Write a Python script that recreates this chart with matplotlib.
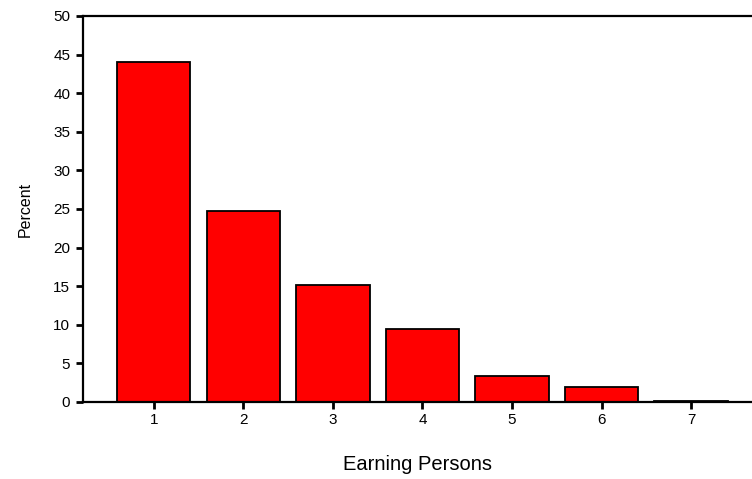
import numpy as np
import matplotlib
matplotlib.use('Agg')
import matplotlib.pyplot as plt

plt.rcParams['font.family'] = ['Liberation Sans', 'DejaVu Sans']

## data
categories = [1, 2, 3, 4, 5, 6, 7]
percent = [44.0, 24.8, 15.2, 9.5, 3.4, 2.0, 0.1]
yticks = [0, 5, 10, 15, 20, 25, 30, 35, 40, 45, 50]

## plot
fig = plt.figure(figsize=(7.52, 4.79), dpi=100)
ax = fig.add_axes([0.110, 0.1608, 0.89, 0.8058])

ax.bar(categories, percent, width=0.82, color='#ff0000', edgecolor='black', linewidth=1.3)

ax.set_xlim(0.207, 7.68)
ax.set_ylim(0, 50)
ax.set_xticks(categories)
ax.set_yticks(yticks)

ax.spines['right'].set_visible(False)
for s in ['left', 'top', 'bottom']:
    ax.spines[s].set_linewidth(1.6)

ax.tick_params(direction='out', length=5, width=2, labelsize=11, pad=4)
ax.tick_params(axis='x', pad=3)

ax.set_xlabel('Earning Persons', fontsize=14.5, labelpad=20)
ax.set_ylabel('Percent', fontsize=11.5, labelpad=15)

plt.savefig('out.png', dpi=100)
